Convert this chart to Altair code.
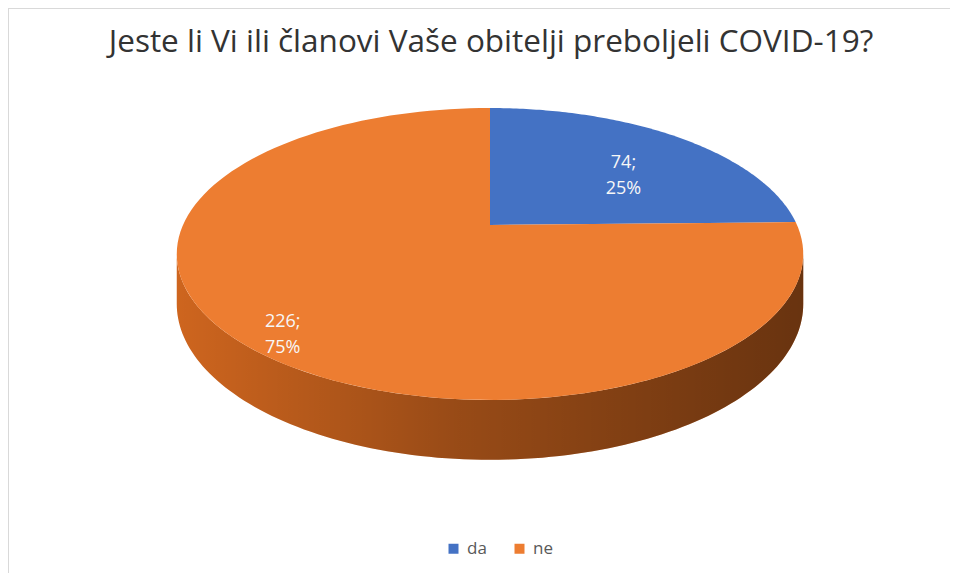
import altair as alt
import pandas as pd

# ---- data ----
categories = ["da", "ne"]
values = [74, 226]

# ---- style ----
colors_top = ["#4472C4", "#ED7D31"]
colors_side = ["#3a62ad", "#d2671f"]
title_text = "Jeste li Vi ili članovi Vaše obitelji preboljeli COVID-19?"

W, H = 942, 565
CX, CY = 482, 217          # projected pie centre (pixels in plot area)
A, B, P, D = 307, 140.2, 0.1986, 48   # perspective projection parameters
N = 120

df = pd.DataFrame({"kategorija": categories, "broj": values})

xs = alt.Scale(domain=[0, W], nice=False, zero=False)
ys = alt.Scale(domain=[0, H], nice=False, zero=False, reverse=True)


def proj(chart):
    return chart.transform_calculate(
        px=f"{CX} + {A}*datum.u/(1+{P}*datum.w)",
        py=f"{CY} - {B}*datum.w/(1+{P}*datum.w)",
    )


base = (
    alt.Chart(df)
    .transform_joinaggregate(total="sum(broj)")
    .transform_window(cum="sum(broj)", frame=[None, 0])
    .transform_calculate(
        start="2*PI*(datum.cum - datum.broj)/datum.total",
        end="2*PI*datum.cum/datum.total",
    )
)

# top face: polygon centre -> arc
top_data = (
    base.transform_calculate(pts=f"sequence(0, {N + 2})")
    .transform_flatten(["pts"])
    .transform_calculate(
        th=f"datum.start + (datum.end - datum.start)*(datum.pts - 1)/{N}",
        u="datum.pts == 0 ? 0 : sin(datum.th)",
        w="datum.pts == 0 ? 0 : cos(datum.th)",
    )
)
top = proj(top_data).mark_line(filled=True, interpolate="linear").encode(
    x=alt.X("px:Q", scale=xs, axis=None),
    y=alt.Y("py:Q", scale=ys, axis=None),
    fill=alt.Fill(
        "kategorija:N",
        scale=alt.Scale(domain=categories, range=colors_top),
        legend=alt.Legend(
            title=None,
            orient="none",
            direction="horizontal",
            legendX=437,
            legendY=532,
            symbolType="square",
            symbolSize=100,
            symbolStrokeWidth=0,
            symbolOpacity=1,
            labelFontSize=17,
            labelFont="Open Sans",
            labelColor="#595959",
            labelOffset=5,
            columnPadding=24,
            padding=0,
        ),
    ),
    detail="kategorija:N",
    order=alt.Order("pts:Q"),
)

# visible front wall
side_data = (
    base.transform_calculate(
        t0=f"max(datum.start, acos(-{P}))",
        t1=f"min(datum.end, 2*PI - acos(-{P}))",
    )
    .transform_filter("datum.t1 > datum.t0")
    .transform_calculate(pts=f"sequence(0, {N + 1})")
    .transform_flatten(["pts"])
    .transform_calculate(
        th=f"datum.t0 + (datum.t1 - datum.t0)*datum.pts/{N}",
        u="sin(datum.th)",
        w="cos(datum.th)",
    )
)
side_data = proj(side_data).transform_calculate(
    py2=f"datum.py + {D}/(1+{P}*datum.w)"
)
side_enc = dict(
    x=alt.X("px:Q", scale=xs, axis=None),
    y=alt.Y("py:Q", scale=ys, axis=None),
    y2=alt.Y2("py2:Q"),
    detail="kategorija:N",
)
side_fill = side_data.mark_area().encode(
    color=alt.Color(
        "kategorija:N",
        scale=alt.Scale(domain=categories, range=colors_side),
        legend=None,
    ),
    **side_enc,
)
shade = {
    "gradient": "linear",
    "x1": 0, "x2": 1, "y1": 0, "y2": 0,
    "stops": [
        {"offset": 0, "color": "rgba(0,0,0,0.02)"},
        {"offset": 0.45, "color": "rgba(0,0,0,0.28)"},
        {"offset": 1, "color": "rgba(0,0,0,0.5)"},
    ],
}
side_shade = side_data.mark_area(color=shade).encode(**side_enc)

# data labels
lab_data = base.transform_calculate(
    mid="(datum.start + datum.end)/2",
    r="0.6 + 0.33*datum.broj/datum.total",
    u="datum.r*sin(datum.mid)",
    w="datum.r*cos(datum.mid)",
    txt="datum.broj + ';\\n' + format(datum.broj/datum.total, '.0%')",
)
labels = proj(lab_data).mark_text(
    fontSize=18, lineHeight=26, color="#f7f7f7", font="Open Sans",
    align="center", baseline="middle", lineBreak="\n",
).encode(
    x=alt.X("px:Q", scale=xs, axis=None),
    y=alt.Y("py:Q", scale=ys, axis=None),
    text="txt:N",
)

# faint frame (top and left edges only, as in the source image)
frame_top = alt.Chart(df).mark_rule(color="#d9d9d9", strokeWidth=2).encode(
    x=alt.value(0), x2=alt.value(W), y=alt.value(0)
)
frame_left = alt.Chart(df).mark_rule(color="#d9d9d9", strokeWidth=2).encode(
    x=alt.value(0), y=alt.value(0), y2=alt.value(H)
)

chart = (
    alt.layer(frame_top, frame_left, side_fill, side_shade, top, labels)
    .resolve_scale(color="independent", fill="independent")
    .properties(
        width=W,
        height=H,
        autosize=alt.AutoSizeParams(type="none"),
        padding=0,
        title=alt.TitleParams(
            text=title_text,
            font="Open Sans",
            fontSize=31.5,
            fontWeight="normal",
            color="#333333",
            anchor="middle",
            baseline="alphabetic",
            offset=0,
            dy=76,
            dx=12,
        ),
    )
    .configure_view(strokeWidth=0)
    .configure(background="white")
)

chart.save("out.html", embed_options={"renderer": "svg", "actions": False})
